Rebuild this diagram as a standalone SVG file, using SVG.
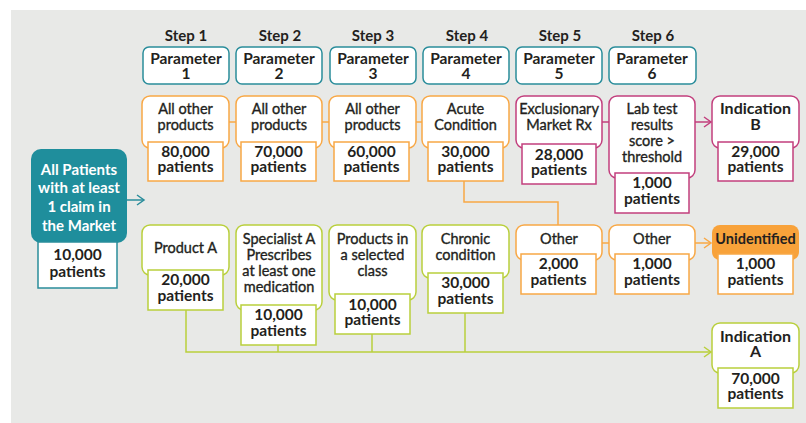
<svg xmlns="http://www.w3.org/2000/svg" width="806" height="423" viewBox="0 0 806 423">
<style>
text{font-family:Lato,"Open Sans","Liberation Sans",sans-serif;fill:#231f20;text-anchor:middle}
.st{font-size:15px;font-weight:700}
.pm{font-size:15.5px;font-weight:700}
.ind{font-size:16px;font-weight:700}
.cr{font-size:14.5px;font-weight:400;stroke:#231f20;stroke-width:0.35}
.ct{font-size:15.5px;font-weight:700}
.wt{font-size:15px;font-weight:700;fill:#fff}
.teal{fill:#fff;stroke:#2a8d9b;stroke-width:1.5}
.or{fill:#fff;stroke:#f8a846;stroke-width:1.5}
.mg{fill:#fff;stroke:#c23f7d;stroke-width:1.5}
.gr{fill:#fff;stroke:#b9cf3c;stroke-width:1.5}
.cn{fill:none;stroke-width:1.5}
</style>
<defs>
<marker id="aT" markerWidth="10" markerHeight="12" refX="8" refY="6" orient="auto" markerUnits="userSpaceOnUse"><path d="M1,1 L8,6 L1,11" fill="none" stroke="#2a8d9b" stroke-width="1.5"/></marker>
<marker id="aM" markerWidth="10" markerHeight="12" refX="8" refY="6" orient="auto" markerUnits="userSpaceOnUse"><path d="M1,1 L8,6 L1,11" fill="none" stroke="#c23f7d" stroke-width="1.5"/></marker>
<marker id="aO" markerWidth="10" markerHeight="12" refX="8" refY="6" orient="auto" markerUnits="userSpaceOnUse"><path d="M1,1 L8,6 L1,11" fill="none" stroke="#f8a846" stroke-width="1.5"/></marker>
<marker id="aG" markerWidth="10" markerHeight="12" refX="8" refY="6" orient="auto" markerUnits="userSpaceOnUse"><path d="M1,1 L8,6 L1,11" fill="none" stroke="#b9cf3c" stroke-width="1.5"/></marker>
</defs>
<rect x="11" y="10" width="795" height="413" fill="#e8e9e7"/>

<g id="steps">
<text class="st" x="186" y="41">Step 1</text>
<text class="st" x="280" y="41">Step 2</text>
<text class="st" x="373" y="41">Step 3</text>
<text class="st" x="467" y="41">Step 4</text>
<text class="st" x="560" y="41">Step 5</text>
<text class="st" x="653" y="41">Step 6</text>
</g>

<g id="connectors">
<line class="cn" stroke="#f8a846" x1="229" y1="122" x2="236" y2="122"/>
<line class="cn" stroke="#f8a846" x1="322" y1="122" x2="329" y2="122"/>
<line class="cn" stroke="#f8a846" x1="416" y1="122" x2="422" y2="122"/>
<line class="cn" stroke="#c23f7d" x1="602" y1="122" x2="609" y2="122"/>
<line class="cn" stroke="#c23f7d" x1="695" y1="122" x2="711" y2="122" marker-end="url(#aM)"/>
<polyline class="cn" stroke="#f8a846" points="464,181 464,202 558,202 558,225"/>
<line class="cn" stroke="#2a8d9b" x1="127" y1="200" x2="144" y2="200" marker-end="url(#aT)"/>
<line class="cn" stroke="#f8a846" x1="602" y1="243" x2="609" y2="243"/>
<line class="cn" stroke="#f8a846" x1="695" y1="243" x2="711" y2="243" marker-end="url(#aO)"/>
<polyline class="cn" stroke="#b9cf3c" points="186,310 186,352 711,352" marker-end="url(#aG)"/>
<line class="cn" stroke="#b9cf3c" x1="278" y1="345" x2="278" y2="352"/>
<line class="cn" stroke="#b9cf3c" x1="372" y1="334" x2="372" y2="352"/>
<line class="cn" stroke="#b9cf3c" x1="465" y1="313" x2="465" y2="352"/>
</g>

<g id="param1"><rect class="teal" x="143" y="47" width="86" height="37" rx="6"/><text class="pm" x="186" y="64">Parameter</text><text class="pm" x="186" y="79">1</text></g>
<g id="param2"><rect class="teal" x="236" y="47" width="86" height="37" rx="6"/><text class="pm" x="279" y="64">Parameter</text><text class="pm" x="279" y="79">2</text></g>
<g id="param3"><rect class="teal" x="330" y="47" width="86" height="37" rx="6"/><text class="pm" x="373" y="64">Parameter</text><text class="pm" x="373" y="79">3</text></g>
<g id="param4"><rect class="teal" x="423" y="47" width="86" height="37" rx="6"/><text class="pm" x="466" y="64">Parameter</text><text class="pm" x="466" y="79">4</text></g>
<g id="param5"><rect class="teal" x="516" y="47" width="86" height="37" rx="6"/><text class="pm" x="559" y="64">Parameter</text><text class="pm" x="559" y="79">5</text></g>
<g id="param6"><rect class="teal" x="609" y="47" width="87" height="37" rx="6"/><text class="pm" x="652" y="64">Parameter</text><text class="pm" x="652" y="79">6</text></g>

<g id="all-patients">
<rect x="31" y="149" width="96" height="94" rx="10" fill="#1f8e9c"/>
<text class="wt" x="79" y="175">All Patients</text>
<text class="wt" x="79" y="193">with at least</text>
<text class="wt" x="79" y="212">1 claim in</text>
<text class="wt" x="79" y="231">the Market</text>
<rect class="teal" x="38" y="242" width="79" height="46"/>
<text class="ct" x="77.5" y="260">10,000</text><text class="ct" x="77.5" y="277">patients</text>
</g>

<g id="s1-top"><rect class="or" x="142" y="96" width="87" height="52" rx="8"/><text class="cr" x="185.5" y="114">All other</text><text class="cr" x="185.5" y="130">products</text>
<rect class="or" x="148" y="142" width="75" height="39"/><text class="ct" x="185.5" y="157">80,000</text><text class="ct" x="185.5" y="172">patients</text></g>
<g id="s2-top"><rect class="or" x="236" y="96" width="86" height="52" rx="8"/><text class="cr" x="279" y="114">All other</text><text class="cr" x="279" y="130">products</text>
<rect class="or" x="241" y="142" width="75" height="39"/><text class="ct" x="278.5" y="157">70,000</text><text class="ct" x="278.5" y="172">patients</text></g>
<g id="s3-top"><rect class="or" x="329" y="96" width="87" height="52" rx="8"/><text class="cr" x="372.5" y="114">All other</text><text class="cr" x="372.5" y="130">products</text>
<rect class="or" x="334" y="142" width="75" height="39"/><text class="ct" x="371.5" y="157">60,000</text><text class="ct" x="371.5" y="172">patients</text></g>
<g id="s4-top"><rect class="or" x="422" y="96" width="87" height="52" rx="8"/><text class="cr" x="465.5" y="114">Acute</text><text class="cr" x="465.5" y="130">Condition</text>
<rect class="or" x="428" y="142" width="75" height="39"/><text class="ct" x="465.5" y="157">30,000</text><text class="ct" x="465.5" y="172">patients</text></g>
<g id="s5-top"><rect class="mg" x="516" y="96" width="86" height="52" rx="8"/><text class="cr" x="559" y="114">Exclusionary</text><text class="cr" x="559" y="130">Market Rx</text>
<rect class="mg" x="522" y="144" width="74" height="40"/><text class="ct" x="559" y="160">28,000</text><text class="ct" x="559" y="175">patients</text></g>
<g id="s6-top"><rect class="mg" x="609" y="96" width="86" height="82" rx="8"/><text class="cr" x="652" y="114">Lab test</text><text class="cr" x="652" y="130">results</text><text class="cr" x="652" y="146">score &gt;</text><text class="cr" x="652" y="162">threshold</text>
<rect class="mg" x="615" y="173" width="74" height="40"/><text class="ct" x="652" y="188">1,000</text><text class="ct" x="652" y="204">patients</text></g>
<g id="indication-b"><rect class="mg" x="712" y="96" width="87" height="52" rx="8"/><text class="ind" x="755.5" y="114">Indication</text><text class="ind" x="755.5" y="130">B</text>
<rect class="mg" x="718" y="142" width="75" height="39"/><text class="ct" x="755.5" y="157">29,000</text><text class="ct" x="755.5" y="172">patients</text></g>

<g id="s1-bottom"><rect class="gr" x="142" y="225" width="87" height="50" rx="8"/><text class="cr" x="185.5" y="253">Product A</text>
<rect class="gr" x="148" y="270" width="75" height="40"/><text class="ct" x="185.5" y="285">20,000</text><text class="ct" x="185.5" y="301">patients</text></g>
<g id="s2-bottom"><rect class="gr" x="236" y="225" width="86" height="85" rx="8"/><text class="cr" x="279" y="244">Specialist A</text><text class="cr" x="279" y="260">Prescribes</text><text class="cr" x="279" y="276">at least one</text><text class="cr" x="279" y="292">medication</text>
<rect class="gr" x="241" y="305" width="75" height="40"/><text class="ct" x="278.5" y="320">10,000</text><text class="ct" x="278.5" y="336">patients</text></g>
<g id="s3-bottom"><rect class="gr" x="329" y="225" width="87" height="75" rx="8"/><text class="cr" x="372.5" y="244">Products in</text><text class="cr" x="372.5" y="260">a selected</text><text class="cr" x="372.5" y="276">class</text>
<rect class="gr" x="335" y="294" width="75" height="40"/><text class="ct" x="372.5" y="310">10,000</text><text class="ct" x="372.5" y="325">patients</text></g>
<g id="s4-bottom"><rect class="gr" x="422" y="225" width="87" height="53" rx="8"/><text class="cr" x="465.5" y="244">Chronic</text><text class="cr" x="465.5" y="260">condition</text>
<rect class="gr" x="428" y="273" width="75" height="40"/><text class="ct" x="465.5" y="288">30,000</text><text class="ct" x="465.5" y="304">patients</text></g>
<g id="s5-bottom"><rect class="or" x="516" y="225" width="86" height="35" rx="8"/><text class="cr" x="559" y="244">Other</text>
<rect class="or" x="521" y="254" width="75" height="40"/><text class="ct" x="558.5" y="269">2,000</text><text class="ct" x="558.5" y="285">patients</text></g>
<g id="s6-bottom"><rect class="or" x="609" y="225" width="86" height="35" rx="8"/><text class="cr" x="652" y="244">Other</text>
<rect class="or" x="615" y="254" width="74" height="40"/><text class="ct" x="652" y="269">1,000</text><text class="ct" x="652" y="285">patients</text></g>
<g id="unidentified"><rect x="712" y="225" width="87" height="35" rx="8" fill="#f8a23a"/><text x="755.5" y="244" style="font-size:14.5px;font-weight:700;fill:#231f20">Unidentified</text>
<rect class="or" x="718" y="254" width="75" height="40"/><text class="ct" x="755.5" y="269">1,000</text><text class="ct" x="755.5" y="285">patients</text></g>
<g id="indication-a"><rect class="gr" x="712" y="323" width="87" height="50" rx="8"/><text class="ind" x="755.5" y="342">Indication</text><text class="ind" x="755.5" y="357">A</text>
<rect class="gr" x="718" y="368" width="75" height="40"/><text class="ct" x="755.5" y="384">70,000</text><text class="ct" x="755.5" y="399">patients</text></g>
</svg>
